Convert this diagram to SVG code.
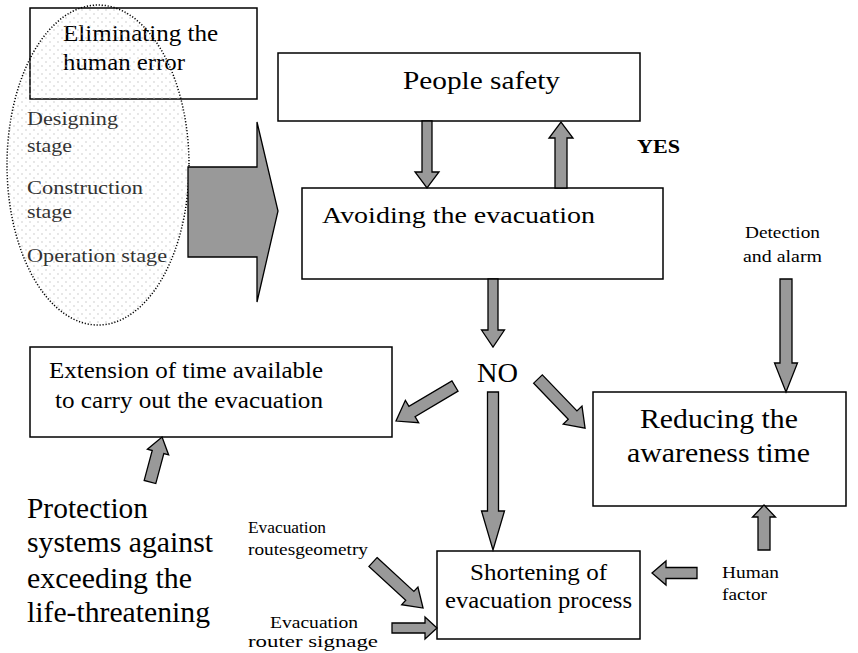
<svg xmlns="http://www.w3.org/2000/svg" width="858" height="653" viewBox="0 0 858 653" font-family="'Liberation Serif', 'Times New Roman', Tinos, serif">
<style>
.box{fill:#fff;stroke:#000;stroke-width:1.5}
.arr{fill:#999;stroke:#000;stroke-width:1.3;stroke-linejoin:miter}
text{font-family:'Liberation Serif','Times New Roman',serif;fill:#000}
.st{fill:#333;font-size:19px}
.sm{font-size:17px}
</style>
<defs>
<pattern id="dots" width="8" height="8" patternUnits="userSpaceOnUse">
<circle cx="2" cy="2" r="0.7" fill="#bbb"/>
<circle cx="6" cy="6" r="0.7" fill="#bbb"/>
</pattern>
</defs>
<rect width="858" height="653" fill="#fff"/>

<g id="n-eliminating">
<rect class="box" x="30" y="8" width="227" height="91"/>
<text x="63" y="41" font-size="24" textLength="155" lengthAdjust="spacingAndGlyphs">Eliminating the</text>
<text x="63" y="70" font-size="24" textLength="122" lengthAdjust="spacingAndGlyphs">human error</text>
</g>

<g id="n-stages">
<ellipse cx="98" cy="165" rx="91" ry="160" fill="url(#dots)" stroke="#000" stroke-width="1.5" stroke-dasharray="1.2 1.8"/>
<text class="st" x="27" y="125" textLength="91" lengthAdjust="spacingAndGlyphs">Designing</text>
<text class="st" x="27" y="152" textLength="45" lengthAdjust="spacingAndGlyphs">stage</text>
<text class="st" x="27" y="194" textLength="116" lengthAdjust="spacingAndGlyphs">Construction</text>
<text class="st" x="27" y="218" textLength="45" lengthAdjust="spacingAndGlyphs">stage</text>
<text class="st" x="27" y="262" textLength="140" lengthAdjust="spacingAndGlyphs">Operation stage</text>
</g>

<g id="n-people">
<rect class="box" x="278" y="53" width="362" height="68"/>
<text x="403" y="89" font-size="26" textLength="157" lengthAdjust="spacingAndGlyphs">People safety</text>
</g>

<g id="n-avoiding">
<rect class="box" x="302" y="188" width="361" height="91"/>
<text x="322" y="223" font-size="24" textLength="273" lengthAdjust="spacingAndGlyphs">Avoiding the evacuation</text>
</g>

<g id="n-extension">
<rect class="box" x="30" y="347" width="362" height="90"/>
<text x="49" y="378" font-size="23" textLength="274" lengthAdjust="spacingAndGlyphs">Extension of time available</text>
<text x="55" y="408" font-size="23" textLength="268" lengthAdjust="spacingAndGlyphs">to carry out the evacuation</text>
</g>

<g id="n-reducing">
<rect class="box" x="593" y="392" width="253" height="114"/>
<text x="640" y="428" font-size="28" textLength="158" lengthAdjust="spacingAndGlyphs">Reducing the</text>
<text x="627" y="462" font-size="28" textLength="183" lengthAdjust="spacingAndGlyphs">awareness time</text>
</g>

<g id="n-shortening">
<rect class="box" x="437" y="551" width="203" height="88"/>
<text x="470" y="580" font-size="23" textLength="137" lengthAdjust="spacingAndGlyphs">Shortening of</text>
<text x="445" y="608" font-size="23" textLength="187" lengthAdjust="spacingAndGlyphs">evacuation process</text>
</g>

<g id="n-no">
<text x="477" y="382" font-size="28" textLength="41" lengthAdjust="spacingAndGlyphs">NO</text>
</g>

<g id="n-yes">
<text x="637" y="153" font-size="18" font-weight="bold" textLength="43" lengthAdjust="spacingAndGlyphs">YES</text>
</g>

<g id="n-detection">
<text class="sm" x="745" y="238" textLength="75" lengthAdjust="spacingAndGlyphs">Detection</text>
<text class="sm" x="743" y="262" textLength="79" lengthAdjust="spacingAndGlyphs">and alarm</text>
</g>

<g id="n-human">
<text class="sm" x="722" y="578" textLength="57" lengthAdjust="spacingAndGlyphs">Human</text>
<text class="sm" x="722" y="600" textLength="45" lengthAdjust="spacingAndGlyphs">factor</text>
</g>

<g id="n-protection">
<text x="27" y="518" font-size="29" textLength="121" lengthAdjust="spacingAndGlyphs">Protection</text>
<text x="27" y="552" font-size="29" textLength="186" lengthAdjust="spacingAndGlyphs">systems against</text>
<text x="27" y="588" font-size="29" textLength="165" lengthAdjust="spacingAndGlyphs">exceeding the</text>
<text x="27" y="622" font-size="29" textLength="183" lengthAdjust="spacingAndGlyphs">life-threatening</text>
</g>

<g id="n-geometry">
<text class="sm" x="248" y="533" textLength="78" lengthAdjust="spacingAndGlyphs">Evacuation</text>
<text class="sm" x="248" y="555" textLength="120" lengthAdjust="spacingAndGlyphs">routesgeometry</text>
</g>

<g id="n-signage">
<text class="sm" x="270" y="628" textLength="88" lengthAdjust="spacingAndGlyphs">Evacuation</text>
<text class="sm" x="248" y="647" textLength="130" lengthAdjust="spacingAndGlyphs">router signage</text>
</g>

<g id="connectors">
<polygon class="arr" points="188,167 257,167 257,122 278,211 257,302 257,257 188,257"/>
<path class="arr" transform="translate(427,121) rotate(90)" d="M0,-5 L51,-5 L51,-12 L67,0 L51,12 L51,5 L0,5 Z"/>
<path class="arr" transform="translate(561,188) rotate(-90)" d="M0,-6 L50,-6 L50,-12 L66,0 L50,12 L50,6 L0,6 Z"/>
<path class="arr" transform="translate(493,279) rotate(90)" d="M0,-5 L51,-5 L51,-11.5 L68,0 L51,11.5 L51,5 L0,5 Z"/>
<path class="arr" transform="translate(455,386) rotate(149.3)" d="M0,-6 L50,-6 L50,-13 L68.6,0 L50,13 L50,6 L0,6 Z"/>
<path class="arr" transform="translate(538,379) rotate(46.2)" d="M0,-6 L50,-6 L50,-13 L68,0 L50,13 L50,6 L0,6 Z"/>
<path class="arr" transform="translate(493,392) rotate(90)" d="M0,-5.5 L119,-5.5 L119,-11.5 L158,0 L119,11.5 L119,5.5 L0,5.5 Z"/>
<path class="arr" transform="translate(786,279) rotate(90)" d="M0,-6 L84,-6 L84,-11.5 L113,0 L84,11.5 L84,6 L0,6 Z"/>
<path class="arr" transform="translate(764,550) rotate(-90)" d="M0,-6 L33,-6 L33,-11.5 L45,0 L33,11.5 L33,6 L0,6 Z"/>
<path class="arr" transform="translate(697,573) rotate(180)" d="M0,-5.5 L31,-5.5 L31,-12 L45,0 L31,12 L31,5.5 L0,5.5 Z"/>
<path class="arr" transform="translate(150,482) rotate(-75)" d="M0,-6 L31,-6 L31,-11 L46.6,0 L31,11 L31,6 L0,6 Z"/>
<path class="arr" transform="translate(373,562) rotate(42.6)" d="M0,-6 L50,-6 L50,-12 L68,0 L50,12 L50,6 L0,6 Z"/>
<path class="arr" transform="translate(392,628)" d="M0,-5 L33,-5 L33,-11 L45,0 L33,11 L33,5 L0,5 Z"/>
</g>
</svg>
